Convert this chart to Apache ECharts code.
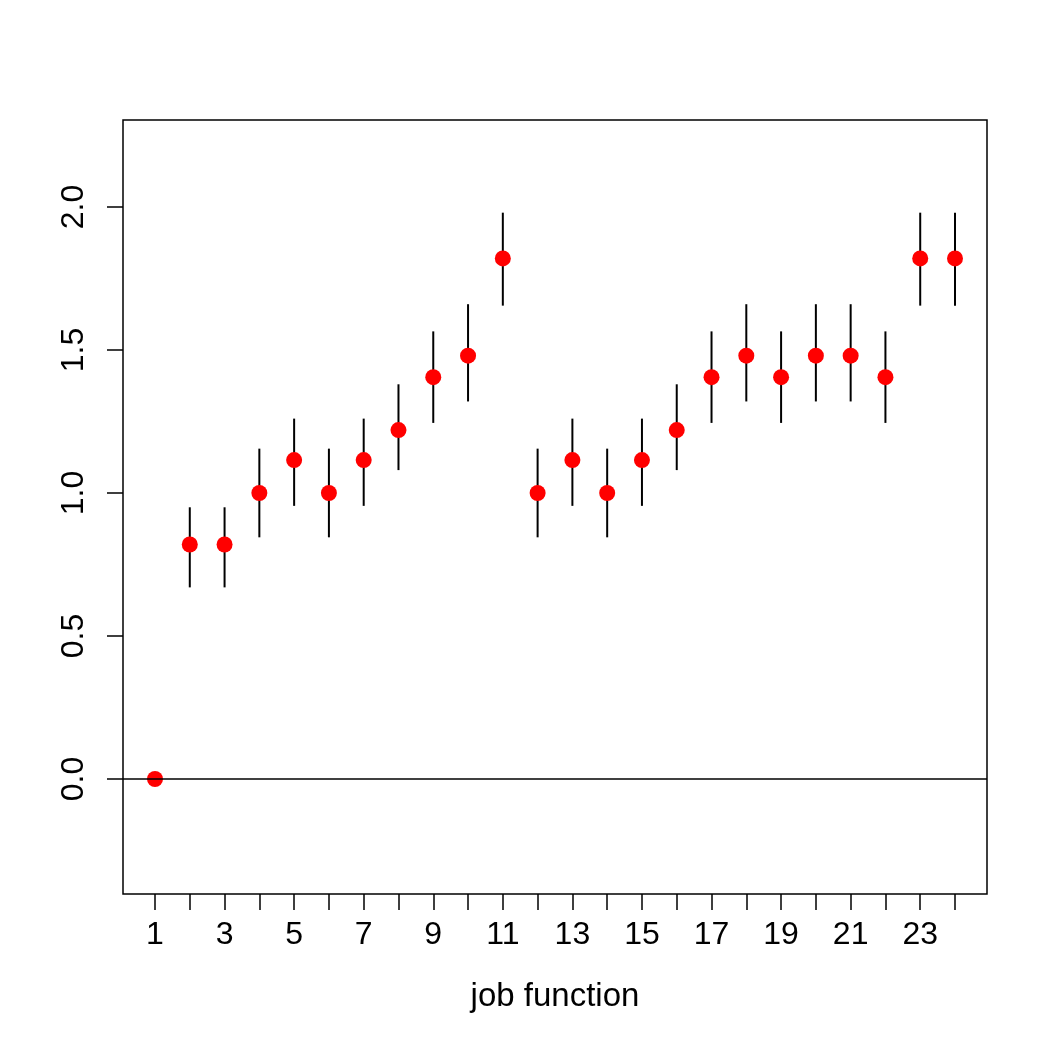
<!DOCTYPE html>
<html>
<head>
<meta charset="utf-8">
<script src="https://cdn.jsdelivr.net/npm/echarts@6/dist/echarts.min.js"></script>
<style>
  html, body { margin: 0; padding: 0; background: #fff; }
  #chart { width: 1048px; height: 1048px; }
</style>
</head>
<body>
<div id="chart"></div>
<script>
// job function 1..24
const jobs = [1, 2, 3, 4, 5, 6, 7, 8, 9, 10, 11, 12, 13, 14, 15, 16, 17, 18, 19, 20, 21, 22, 23, 24]
const estimate = [0, 0.82, 0.82, 1.0, 1.115, 1.0, 1.115, 1.22, 1.405, 1.48, 1.82, 1.0,
  1.115, 1.0, 1.115, 1.22, 1.405, 1.48, 1.405, 1.48, 1.48, 1.405, 1.82, 1.82]
const lower = [0, 0.67, 0.67, 0.845, 0.955, 0.845, 0.955, 1.08, 1.245, 1.32, 1.655, 0.845,
  0.955, 0.845, 0.955, 1.08, 1.245, 1.32, 1.245, 1.32, 1.32, 1.245, 1.655, 1.655]
const upper = [0, 0.95, 0.95, 1.155, 1.26, 1.155, 1.26, 1.38, 1.565, 1.66, 1.98, 1.155,
  1.26, 1.155, 1.26, 1.38, 1.565, 1.66, 1.565, 1.66, 1.66, 1.565, 1.98, 1.98]
const xTicks = jobs
const xLabels = [1, 3, 5, 7, 9, 11, 13, 15, 17, 19, 21, 23]
const yTicks = [0, 0.5, 1, 1.5, 2]

const font = '"Liberation Sans", Arial, Helvetica, sans-serif'
const chart = echarts.init(document.getElementById('chart'), null, { renderer: 'canvas' })

chart.setOption({
  backgroundColor: '#fff',
  animation: false,
  grid: {
    left: 123,
    right: 61,
    top: 120,
    bottom: 154,
    show: true,
    borderColor: '#000',
    borderWidth: 1.5,
    backgroundColor: 'transparent'
  },
  xAxis: {
    type: 'value',
    min: 0.08,
    max: 24.92,
    name: 'job function',
    nameLocation: 'middle',
    nameGap: 86,
    nameTextStyle: { color: '#000', fontSize: 33, fontFamily: font, verticalAlign: 'top' },
    axisLine: { show: false, onZero: false },
    splitLine: { show: false },
    axisTick: {
      show: true,
      customValues: xTicks,
      length: 16,
      lineStyle: { color: '#000', width: 1.5 }
    },
    axisLabel: {
      customValues: xLabels,
      margin: 25,
      color: '#000',
      fontSize: 32,
      fontFamily: font
    }
  },
  yAxis: {
    type: 'value',
    min: -0.402,
    max: 2.304,
    axisLine: { show: false, onZero: false },
    splitLine: { show: false },
    axisTick: {
      show: true,
      customValues: yTicks,
      length: 16,
      lineStyle: { color: '#000', width: 1.5 }
    },
    axisLabel: {
      customValues: yTicks,
      rotate: 90,
      margin: 33,
      color: '#000',
      fontSize: 32,
      fontFamily: font,
      formatter: v => v.toFixed(1)
    }
  },
  series: [
    {
      type: 'custom',
      z: 2,
      data: jobs.map((j, i) => [j, lower[i], upper[i]]),
      renderItem: function (params, api) {
        const lo = api.coord([api.value(0), api.value(1)])
        const hi = api.coord([api.value(0), api.value(2)])
        return {
          type: 'line',
          shape: { x1: lo[0], y1: lo[1], x2: hi[0], y2: hi[1] },
          style: { stroke: '#000', lineWidth: 2 }
        }
      }
    },
    {
      type: 'scatter',
      z: 3,
      symbol: 'circle',
      symbolSize: 16,
      itemStyle: { color: '#ff0000', opacity: 1 },
      data: jobs.map((j, i) => [j, estimate[i]]),
      markLine: {
        silent: true,
        symbol: 'none',
        label: { show: false },
        lineStyle: { color: '#000', width: 1.5, type: 'solid' },
        data: [{ yAxis: 0 }]
      }
    }
  ]
})
</script>
</body>
</html>
